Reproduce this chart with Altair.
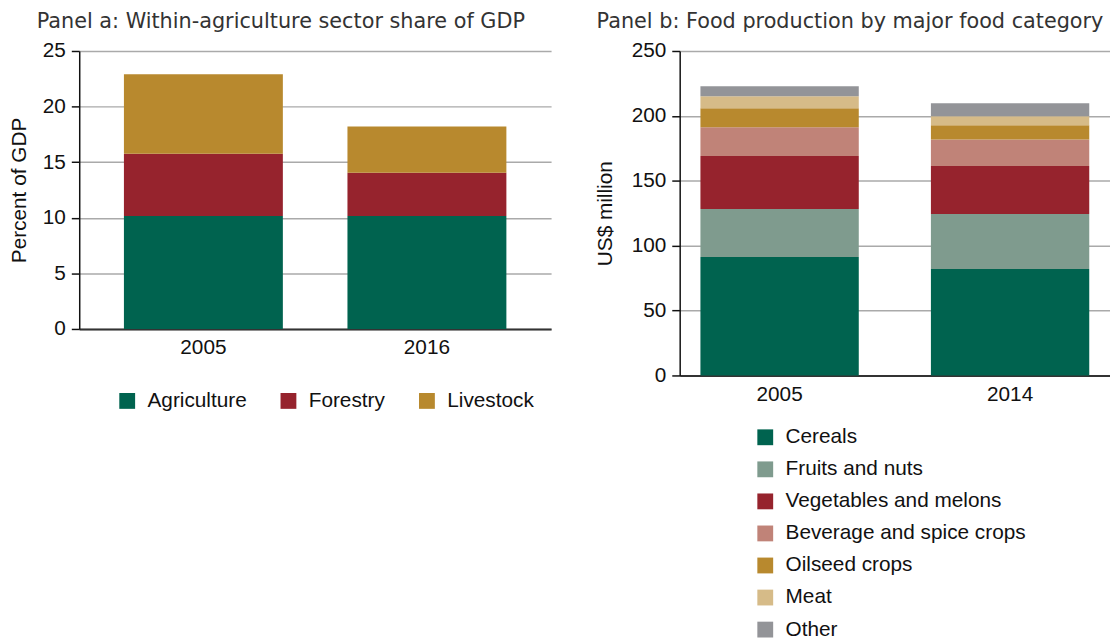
import altair as alt
import pandas as pd

# ---------------- Panel a data ----------------
years_a = ["2005", "2016"]
sectors = ["Agriculture", "Forestry", "Livestock"]
agriculture = [10.15, 10.15]
forestry = [5.6, 3.9]
livestock = [7.15, 4.15]
colors_a = ["#00634f", "#96232d", "#b8892e"]

# ---------------- Panel b data ----------------
years_b = ["2005", "2014"]
categories = ["Cereals", "Fruits and nuts", "Vegetables and melons",
              "Beverage and spice crops", "Oilseed crops", "Meat", "Other"]
cereals = [91.3, 82.1]
fruits_nuts = [36.9, 42.3]
vegetables_melons = [40.8, 36.9]
beverage_spice = [22.3, 20.5]
oilseed = [14.6, 11.0]
meat = [9.3, 7.0]
other = [7.6, 10.0]
colors_b = ["#00634f", "#7f9b8e", "#96232d", "#c08378", "#b8892e", "#d6bb88", "#939498"]

rows_a = []
for i, (name, vals) in enumerate(zip(sectors, [agriculture, forestry, livestock])):
    for y, v in zip(years_a, vals):
        rows_a.append({"year": y, "sector": name, "value": v, "idx": i})
df_a = pd.DataFrame(rows_a)

rows_b = []
series_b = [cereals, fruits_nuts, vegetables_melons, beverage_spice, oilseed, meat, other]
for i, (name, vals) in enumerate(zip(categories, series_b)):
    for y, v in zip(years_b, vals):
        rows_b.append({"year": y, "category": name, "value": v, "idx": i})
df_b = pd.DataFrame(rows_b)

LABEL_FONT = "Liberation Sans"
TITLE_FONT = "DejaVu Sans"
FS = 21


def y_axis(title, values, title_pad):
    return alt.Axis(
        title=title, values=values, tickSize=8, tickColor="#111", tickWidth=1.5,
        domainColor="#111", domainWidth=1.5, gridColor="#aaaaaa", gridWidth=1.5,
        labelPadding=6, titlePadding=title_pad, labelFont=LABEL_FONT, labelFontSize=FS,
        titleFont=LABEL_FONT, titleFontSize=FS, titleFontWeight="normal",
        labelColor="#111", titleColor="#111",
    )


def x_axis():
    return alt.Axis(
        title=None, labelAngle=0, ticks=False, grid=False, domainColor="#333",
        domainWidth=2, labelPadding=8, labelFont=LABEL_FONT, labelFontSize=FS,
        labelColor="#111",
    )


chart_a = alt.Chart(df_a).mark_bar().encode(
    x=alt.X("year:N", scale=alt.Scale(paddingInner=0.289, paddingOuter=0.2, align=0.5), axis=x_axis()),
    y=alt.Y("value:Q", stack="zero", scale=alt.Scale(domain=[0, 25], nice=False),
            axis=y_axis("Percent of GDP", [0, 5, 10, 15, 20, 25], 13)),
    color=alt.Color("sector:N", scale=alt.Scale(domain=sectors, range=colors_a),
                    legend=alt.Legend(title=None, orient="none", legendX=38, legendY=343,
                                      direction="horizontal", symbolType="square", symbolSize=256,
                                      symbolStrokeWidth=0, labelFontSize=FS, labelFont=LABEL_FONT,
                                      labelColor="#111", columnPadding=31, labelOffset=10,
                                      labelLimit=0)),
    order=alt.Order("idx:Q", sort="ascending"),
).properties(
    width=477, height=281,
    title=alt.TitleParams("Panel a: Within-agriculture sector share of GDP", anchor="start",
                          frame="group", dx=-43, font=TITLE_FONT, fontSize=21,
                          fontWeight="normal", color="#333", offset=8),
)

chart_b = alt.Chart(df_b).mark_bar().encode(
    x=alt.X("year:N", scale=alt.Scale(paddingInner=0.313, paddingOuter=0.09, align=0.5), axis=x_axis()),
    y=alt.Y("value:Q", stack="zero", scale=alt.Scale(domain=[0, 250], nice=False),
            axis=y_axis("US$ million", [0, 50, 100, 150, 200, 250], 16)),
    color=alt.Color("category:N", scale=alt.Scale(domain=categories, range=colors_b),
                    legend=alt.Legend(title=None, orient="none", legendX=76, legendY=380,
                                      direction="vertical", symbolType="square", symbolSize=256,
                                      symbolStrokeWidth=0, labelFontSize=FS, labelFont=LABEL_FONT,
                                      labelColor="#111", rowPadding=10.4, labelOffset=10,
                                      labelLimit=0)),
    order=alt.Order("idx:Q", sort="ascending"),
).properties(
    width=435, height=328,
    title=alt.TitleParams("Panel b: Food production by major food category", anchor="start",
                          frame="group", dx=-84, font=TITLE_FONT, fontSize=21,
                          fontWeight="normal", color="#333", offset=8),
)

chart = alt.hconcat(chart_a, chart_b, spacing=43).resolve_scale(
    color="independent", x="independent", y="independent"
).resolve_legend(color="independent").configure_view(stroke=None).properties(
    padding={"left": 0, "top": 0, "right": 0, "bottom": 0}
)

chart.save("out.html", embed_options={"renderer": "svg", "actions": False})
